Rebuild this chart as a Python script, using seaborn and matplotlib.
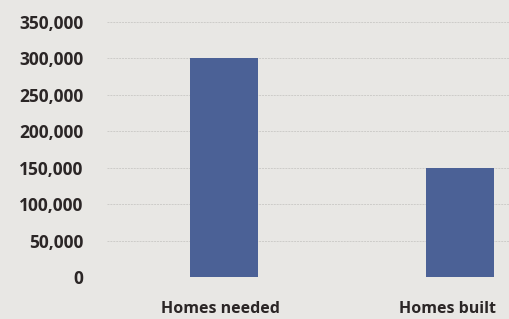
import matplotlib
matplotlib.use("Agg")
import matplotlib.pyplot as plt
import matplotlib.transforms as mtransforms
import seaborn as sns
import pandas as pd
from matplotlib.ticker import FuncFormatter

# data
categories = ["Homes needed", "Homes built"]
homes = [300000, 149000]
yticks = [0, 50000, 100000, 150000, 200000, 250000, 300000, 350000]

paper = "#e8e7e4"
bar_col = "#4b6196"
text_col = "#2b2626"

sns.set_theme(style="white")
plt.rcParams["font.family"] = ["Open Sans", "DejaVu Sans"]

df = pd.DataFrame({"category": categories, "homes": homes})

fig = plt.figure(figsize=(5.09, 3.19), dpi=100, facecolor=paper)
ax = fig.add_axes([107 / 509, 42 / 319, 402 / 509, 255 / 319])
ax.set_facecolor(paper)

sns.barplot(data=df, x="category", y="homes", color=bar_col, width=0.29,
            saturation=1, linewidth=0, ax=ax, zorder=3)

ax.set_ylim(0, 350000)
ax.set_xlim(-0.496, 1.208)
ax.set_yticks(yticks)
ax.yaxis.set_major_formatter(FuncFormatter(lambda v, p: f"{int(v):,}"))
ax.grid(axis="y", color="#cdccc9", linewidth=0.7, linestyle=(0, (2, 1)), zorder=0)
ax.grid(axis="x", visible=False)
for s in ax.spines.values():
    s.set_visible(False)

ax.tick_params(axis="y", length=0, pad=17, labelsize=12.5, labelcolor=text_col)
ax.tick_params(axis="x", length=0, pad=17, labelsize=11.5, labelcolor=text_col)
for lbl in ax.get_yticklabels() + ax.get_xticklabels():
    lbl.set_fontweight("bold")

# category labels sit a little left of the bar centres in the print
for lbl, dx in zip(ax.get_xticklabels(), [-4, -12]):
    lbl.set_transform(lbl.get_transform() +
                      mtransforms.ScaledTranslation(dx / 100, 0, fig.dpi_scale_trans))

ax.set_xlabel("")
ax.set_ylabel("")

fig.savefig("out.png", dpi=100, facecolor=paper)
